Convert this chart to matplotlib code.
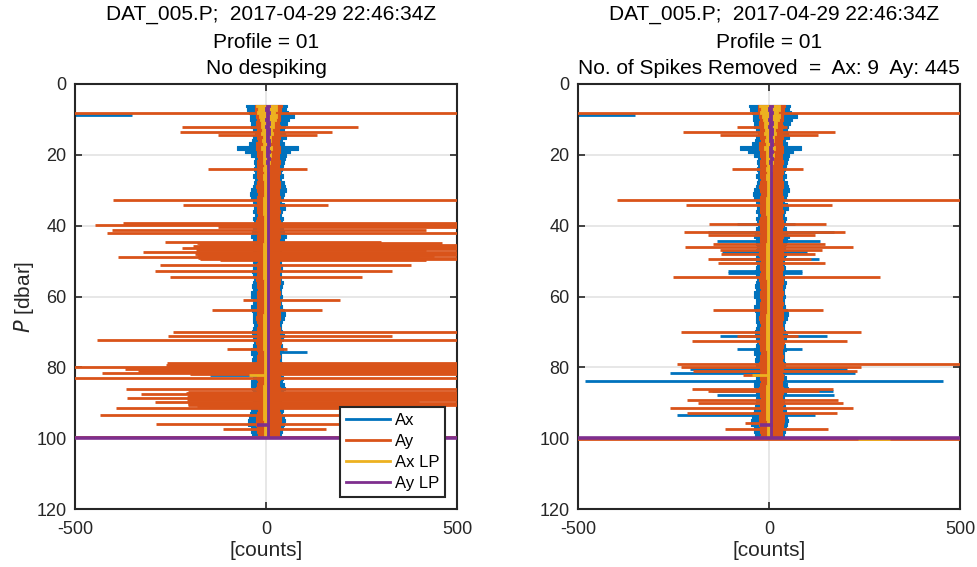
import matplotlib
matplotlib.use("Agg")
import matplotlib.pyplot as plt
from matplotlib.lines import Line2D

plt.rcParams['font.family'] = ['Liberation Sans', 'DejaVu Sans']
plt.rcParams['axes.unicode_minus'] = False

# ---------------- data ----------------
file_title = "DAT_005.P;  2017-04-29 22:46:34Z"
profile_title = "Profile = 01"
left_subtitle = "No despiking"
right_subtitle = "No. of Spikes Removed  =  Ax: 9  Ay: 445"
series_names = ["Ax", "Ay", "Ax LP", "Ay LP"]
series_colors = ["#0072BD", "#D95319", "#EDB120", "#7E2F8E"]

# pressure levels of the noise envelope [dbar]
p_core = list(range(6, 101))
ax_lo = [-52, -50, -44, -42, -42, -40, -38, -34, -29, -33, -36, -45, -77, -55, -40,
         -30, -32, -30, -32, -30, -33, -29, -31, -35, -38, -42, -40, -34, -29, -31,
         -33, -30, -34, -32, -30, -33, -36, -38, -34, -33, -32, -35, -31, -33, -35,
         -32, -34, -36, -33, -31, -33, -36, -34, -40, -38, -35, -33, -38, -36, -34,
         -33, -35, -32, -34, -36, -34, -33, -31, -35, -40, -38, -35, -36, -33, -31,
         -32, -34, -35, -38, -40, -36, -33, -31, -33, -34, -36, -38, -42, -45, -48,
         -46, -40, -38, -36, -35]
ax_hi = [55, 52, 58, 72, 60, 54, 50, 48, 50, 52, 42, 48, 84, 62, 52,
         50, 48, 44, 42, 40, 44, 40, 46, 50, 52, 48, 44, 40, 46, 50,
         42, 40, 44, 42, 40, 44, 48, 52, 46, 44, 42, 40, 44, 42, 40,
         38, 42, 40, 38, 40, 44, 42, 40, 38, 42, 40, 38, 42, 46, 50,
         48, 42, 40, 38, 42, 46, 44, 40, 42, 44, 40, 38, 40, 42, 40,
         38, 40, 44, 42, 48, 50, 44, 40, 38, 40, 42, 44, 42, 46, 50,
         48, 44, 42, 40, 38]
ay_lo = [-30, -28, -27, -25, -24, -26, -24, -23, -25, -24, -22, -25, -27, -24, -23,
         -22, -24, -23, -22, -24, -23, -22, -24, -25, -23, -22, -24, -23, -22, -23,
         -24, -22, -23, -25, -24, -23, -22, -24, -23, -22, -24, -23, -25, -24, -22,
         -23, -24, -22, -23, -25, -24, -23, -22, -24, -23, -22, -24, -23, -22, -24,
         -25, -23, -22, -24, -23, -22, -24, -26, -24, -23, -22, -24, -23, -25, -24,
         -22, -23, -24, -22, -23, -25, -24, -23, -22, -24, -23, -22, -24, -26, -27,
         -25, -24, -23, -22, -23]
ay_hi = [42, 40, 38, 36, 37, 35, 36, 34, 35, 36, 34, 35, 37, 36, 35,
         34, 36, 35, 34, 36, 35, 34, 36, 37, 35, 34, 36, 35, 34, 35,
         36, 34, 35, 37, 36, 35, 34, 36, 35, 34, 36, 35, 37, 36, 34,
         35, 36, 34, 35, 37, 36, 35, 34, 36, 35, 34, 36, 35, 34, 36,
         37, 35, 34, 36, 35, 34, 36, 38, 36, 35, 34, 36, 35, 37, 36,
         34, 35, 36, 34, 35, 37, 36, 35, 34, 36, 35, 34, 36, 38, 39,
         37, 36, 35, 34, 35]

# low-pass envelopes [counts]
p_lp = [6, 7, 8, 9, 10, 11, 12, 13, 14, 15, 16, 17, 18, 19, 20, 21, 22, 23, 24, 25,
        26, 28, 30, 34, 40, 50, 60, 70, 80, 90, 100]
axlp_lo = [-26, -20, -24, -18, -16, -12, -14, -10, -12, -9, -10, -8, -12, -9, -9, -7,
           -8, -6, -7, -6, -7, -6, -6, -7, -6, -7, -6, -7, -6, -7, -6]
axlp_hi = [28, 30, 24, 30, 26, 20, 22, 16, 18, 12, 14, 10, 16, 11, 12, 8,
           10, 7, 8, 6, 6, 4, 3, 2, 3, 2, 2, 3, 2, 2, 3]
aylp_lo = [0, -2, 1, -1, -2, 1, -2, 0, 1, -1, 0, 2, -1, 1, 0, 2,
           1, 2, 2, 3, 2, 3, 3, 3, 3, 3, 3, 3, 3, 3, 3]
aylp_hi = [10, 8, 11, 9, 8, 11, 8, 10, 11, 9, 10, 11, 9, 10, 9, 10,
           9, 8, 8, 7, 7, 7, 7, 7, 7, 7, 7, 7, 7, 7, 7]

# Ay spikes, no despiking: pressure, left end, right end
ayL_p = [8.3, 12.1, 13.6, 14.4, 24.1, 32.8, 34.2, 39.2, 39.8, 40.5, 41.1, 42.0, 44.7,
         45.0, 45.4, 45.7, 46.0, 46.3, 46.6, 47.0, 47.4, 47.7, 48.0, 48.3, 48.6, 48.9,
         49.2, 49.5, 49.8, 51.0, 52.9, 54.5, 61.0, 63.8, 69.9, 71.1, 72.4, 74.9,
         78.9, 79.2, 79.5, 79.8, 80.1, 80.5, 80.8, 81.0, 81.3, 81.5, 81.8, 82.9,
         86.2, 86.9, 87.2, 87.5, 87.8, 88.1, 88.4, 88.7, 89.0, 89.3, 89.7, 90.0,
         90.3, 90.6, 91.0, 91.3, 91.5, 93.4, 95.9, 97.3, 99.8]
ayL_lo = [-650, -221, -225, -126, -152, -400, -217, -374, -448, -125, -403, -417, -264,
          -180, -175, -190, -178, -220, -176, -182, -322, -175, -185, -176, -180, -387,
          -178, -174, -120, -277, -290, -251, -60, -141, -243, -257, -442, -102,
          -259, -262, -255, -650, -260, -369, -258, -335, -255, -429, -200, -650,
          -367, -204, -210, -328, -205, -204, -208, -364, -204, -206, -290, -204,
          -205, -204, -180, -150, -392, -435, -288, -113, -650]
ayL_hi = [650, 240, 172, 133, 107, 650, 163, 650, 650, 650, 420, 650, 300,
          460, 650, 520, 650, 650, 600, 420, 650, 650, 480, 650, 440, 400,
          650, 500, 420, 380, 330, 250, 195, 147, 650, 330, 650, 55,
          650, 650, 650, 650, 650, 650, 650, 650, 650, 650, 500, 650,
          650, 650, 600, 650, 650, 620, 650, 650, 650, 640, 400, 650,
          500, 650, 440, 380, 380, 300, 250, 157, 650]

# Ax spikes visible, no despiking
axL_p = [8.7, 75.7, 82.2]
axL_lo = [-650, 30, -147]
axL_hi = [-350, 107, -30]

# Ay spikes after despiking
ayR_p = [8.3, 12.2, 13.6, 14.4, 24.1, 32.8, 34.2, 39.6, 41.8, 42.5, 45.2, 46.1, 47.0,
         48.0, 49.4, 50.6, 54.6, 63.8, 69.9, 71.1, 72.5, 79.1, 80.0, 81.0, 82.2,
         86.2, 86.8, 89.2, 90.2, 91.6, 93.0, 95.8, 97.4, 100.2]
ayR_lo = [-650, -85, -224, -128, -98, -399, -216, -157, -222, -160, -146, -220, -128,
          -125, -160, -133, -251, -146, -230, -84, -202, -240, -230, -200, -68,
          -202, -159, -215, -186, -260, -215, -63, -116, -650]
ayR_hi = [650, 47, 173, 128, 89, 650, 164, 149, 200, 120, 146, 220, 140,
          120, 110, 146, 290, 141, 240, 76, 203, 650, 240, 230, 40,
          168, 130, 180, 195, 220, 177, 40, 155, 650]

# Ax spikes after despiking
axR_p = [8.7, 39.6, 41.8, 44.3, 47.5, 49.4, 52.7, 53.5, 71.1, 74.8, 80.5, 81.5, 83.9,
         86.8, 87.8, 93.4]
axR_lo = [-650, -84, -160, -137, -124, -128, -107, -107, -128, -84, -207, -260, -482,
          -150, -137, -240]
axR_hi = [-350, 68, 170, 133, 100, 130, 86, 86, 151, 86, 203, 225, 455,
          168, 170, 120]

# isolated low-pass excursions (both panels)
axlp_spike_p = [82.2]
axlp_spike_lo = [-44]
axlp_spike_hi = [0]
aylp_spike_p = [96.2, 99.9]
aylp_spike_lo = [-24, -650]
aylp_spike_hi = [10, 650]
axlpR_end_p = [100.3]
axlpR_end_lo = [233]
axlpR_end_hi = [317]

x_ticks = [-500, 0, 500]
y_ticks = [0, 20, 40, 60, 80, 100, 120]

# ---------------- figure ----------------
W, H = 977, 567
fig = plt.figure(figsize=(W / 100, H / 100), dpi=100)

def px_axes(x0, x1, y0, y1):
    return fig.add_axes([x0 / W, 1 - y1 / H, (x1 - x0) / W, (y1 - y0) / H])

axL = px_axes(75, 457, 84, 509)
axR = px_axes(578, 960, 84, 509)
SPK = 2.0
dark = "#262626"

def draw_panel(ax, ay_p, ay_lo_, ay_hi_, ax_p, ax_lo_, ax_hi_, right):
    c_ax, c_ay, c_axlp, c_aylp = series_colors
    ax.fill_betweenx(p_core, ax_lo, ax_hi, step="mid", color=c_ax, lw=0.8, ec=c_ax, zorder=2)
    ax.hlines(ax_p, ax_lo_, ax_hi_, colors=c_ax, lw=SPK, zorder=2)
    ax.fill_betweenx(p_core, ay_lo, ay_hi, step="mid", color=c_ay, lw=0.8, ec=c_ay, zorder=3)
    ax.hlines(ay_p, ay_lo_, ay_hi_, colors=c_ay, lw=SPK, zorder=3)
    ax.fill_betweenx(p_lp, axlp_lo, axlp_hi, step="mid", color=c_axlp, lw=0.6, ec=c_axlp, zorder=4)
    ax.hlines(axlp_spike_p, axlp_spike_lo, axlp_spike_hi, colors=c_axlp, lw=SPK, zorder=4)
    if right:
        ax.hlines(axlpR_end_p, axlpR_end_lo, axlpR_end_hi, colors=c_axlp, lw=SPK, zorder=4)
    ax.fill_betweenx(p_lp, aylp_lo, aylp_hi, step="mid", color=c_aylp, lw=0.6, ec=c_aylp, zorder=5)
    ax.hlines(aylp_spike_p, aylp_spike_lo, aylp_spike_hi, colors=c_aylp, lw=2.6, zorder=5)

    ax.set_xlim(-500, 500)
    ax.set_ylim(120, 0)
    ax.set_xticks(x_ticks)
    ax.set_yticks(y_ticks)
    ax.grid(True, color="#e0e0e0", lw=1.1, zorder=0)
    ax.set_axisbelow(True)
    ax.tick_params(direction="in", length=5, width=1.2, colors=dark, labelsize=13,
                   top=True, right=True, pad=6)
    ax.tick_params(axis="x", pad=9)
    for s in ax.spines.values():
        s.set_color(dark)
        s.set_linewidth(1.5)
    ax.set_xlabel("[counts]", fontsize=15, color=dark, labelpad=2)

draw_panel(axL, ayL_p, ayL_lo, ayL_hi, axL_p, axL_lo, axL_hi, False)
draw_panel(axR, ayR_p, ayR_lo, ayR_hi, axR_p, axR_lo, axR_hi, True)

axL.set_ylabel(r"$\it{P}$ [dbar]", fontsize=15, color=dark, labelpad=0)

for cx, sub in [(266, left_subtitle), (769, right_subtitle)]:
    for yy, dx, s in [(15, 5, file_title), (42, 0, profile_title), (68, 0, sub)]:
        fig.text((cx + dx) / W, 1 - yy / H, s, ha="center", va="center", fontsize=15,
                 color="black")

handles = [Line2D([], [], color=c, lw=2.0) for c in series_colors]
leg = axL.legend(handles, series_names, loc="lower right",
                 bbox_to_anchor=(1 - 12 / 382, 12 / 425), borderaxespad=0,
                 fontsize=12, handlelength=2.6, handletextpad=0.3,
                 labelspacing=0.36, fancybox=False, framealpha=1, borderpad=0.35)
leg.get_frame().set_edgecolor(dark)
leg.get_frame().set_linewidth(1.5)
leg.set_zorder(10)

fig.savefig("out.png", dpi=100)
